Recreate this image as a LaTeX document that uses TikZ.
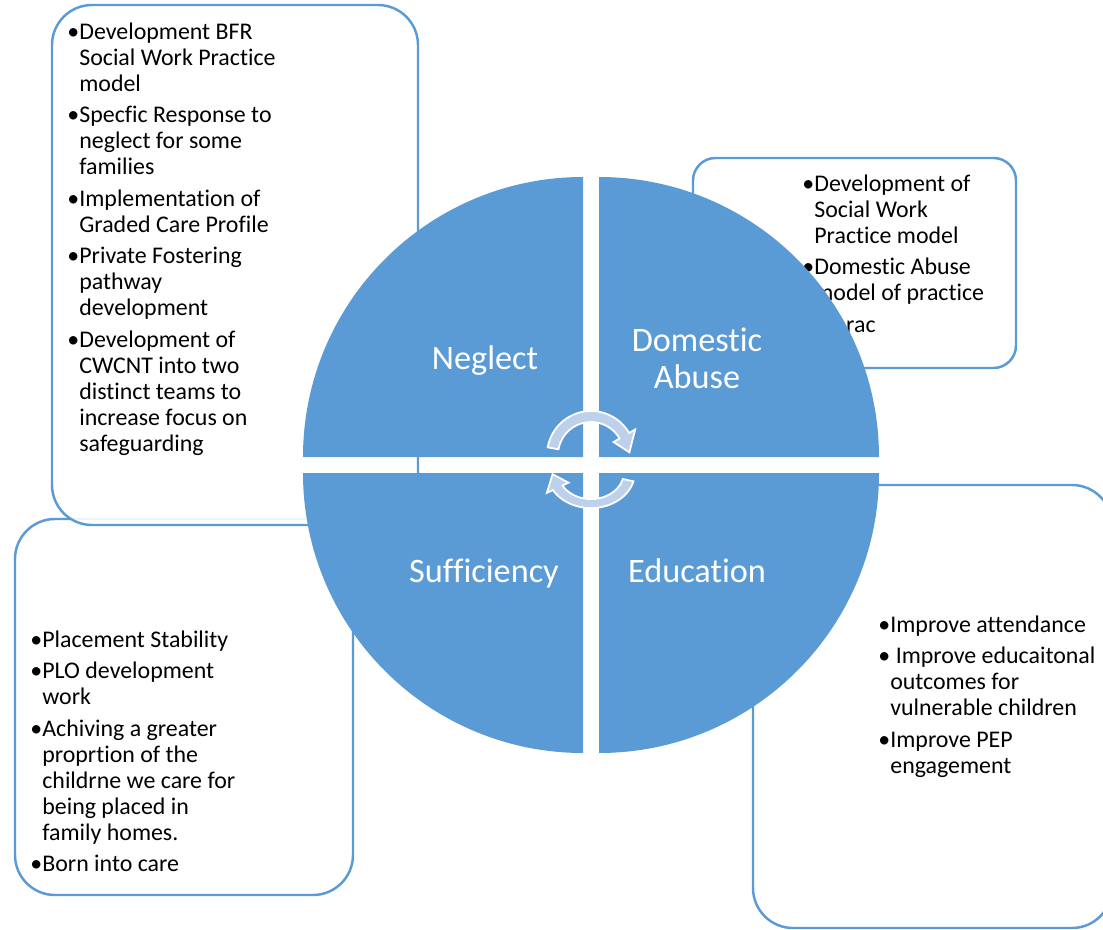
\documentclass[tikz,border=0pt]{standalone}
\usepackage{fontspec}
\setmainfont{Carlito}[RawFeature={-liga;-clig;-calt;-dlig}]
\usepackage{tikz}

\definecolor{segblue}{HTML}{5B9BD5}
\definecolor{cyclefill}{HTML}{BDD1EC}
\newcommand{\bul}{\makebox[0.24cm][l]{\textbullet}}
\newcommand{\ind}{\hspace*{0.24cm}}

\begin{document}
\begin{tikzpicture}[x=0.02cm,y=-0.02cm,
    box/.style={draw=segblue, line width=1.4pt, fill=white, rounded corners=0.8cm},
    list/.style={anchor=north west, inner sep=0pt, align=left, font=\fontsize{13.6}{14.8}\selectfont},
    seg/.style={fill=segblue},
    seglabel/.style={text=white, align=center, font=\fontsize{19.5}{21}\selectfont},
    cyclearrow/.style={fill=cyclefill, draw=white, line width=1pt}]

    \useasboundingbox (0,0) rectangle (1103,930);

    % boxes behind the circle
    \draw[box] (15,519) rectangle (353,895);
    \draw[box, fill opacity=0.9] (52,5) rectangle (418,525);
    \draw[box] (753,485) rectangle (1112,928);
    \draw[box, rounded corners=0.45cm] (693,158) rectangle (1016,368);

    \node[list] (neglectlist) at (67,21) {\rule{0pt}{0.75em}\bul Development BFR\\\ind Social Work Practice\\\ind model\\[0.11cm]
        \bul Specfic Response to\\\ind neglect for some\\\ind families\\[0.11cm]
        \bul Implementation of\\\ind Graded Care Profile\\[0.11cm]
        \bul Private Fostering\\\ind pathway\\\ind development\\[0.11cm]
        \bul Development of\\\ind CWCNT into two\\\ind distinct teams to\\\ind increase focus on\\\ind safeguarding};
    \node[list] (abuselist) at (802,173) {\rule{0pt}{0.75em}\bul Development of\\\ind Social Work\\\ind Practice model\\[0.11cm]
        \bul Domestic Abuse\\\ind model of practice\\[0.11cm]
        \bul Marac};
    \node[list] (educationlist) at (878,614) {\rule{0pt}{0.75em}\bul Improve attendance\\[0.11cm]
        \bul\ Improve educaitonal\\\ind outcomes for\\\ind vulnerable children\\[0.11cm]
        \bul Improve PEP\\\ind engagement};
    \node[list] (sufficiencylist) at (30,629) {\rule{0pt}{0.75em}\bul Placement Stability\\[0.11cm]
        \bul PLO development\\\ind work\\[0.11cm]
        \bul Achiving a greater\\\ind proprtion of the\\\ind childrne we care for\\\ind being placed in\\\ind family homes.\\[0.11cm]
        \bul Born into care};

    % four quarters
    \fill[seg] (583,457) -- ++(-280,0) arc[start angle=180, end angle=270, radius=280] -- cycle;
    \fill[seg] (599,457) -- ++(0,-280) arc[start angle=270, end angle=360, radius=280] -- cycle;
    \fill[seg] (583,473) -- ++(-280,0) arc[start angle=180, end angle=90, radius=280] -- cycle;
    \fill[seg] (599,473) -- ++(280,0) arc[start angle=0, end angle=90, radius=280] -- cycle;

    \node[seglabel] (neglect) at (485,361) {Neglect};
    \node[seglabel] (abuse) at (697,358) {Domestic\\Abuse};
    \node[seglabel] (sufficiency) at (484,573) {Sufficiency};
    \node[seglabel] (education) at (697,571) {Education};

    % cycle arrows
    \begin{scope}[shift={(591,455)}]
        \filldraw[cyclearrow] (190:44) arc[start angle=190, end angle=330, radius=44] -- (330:51) -- (356:38.5)
            -- (330:26) -- (330:33) arc[start angle=330, end angle=190, radius=33] -- cycle;
    \end{scope}
    \begin{scope}[shift={(591,472)}, yscale=0.82]
        \filldraw[cyclearrow] (15:44) arc[start angle=15, end angle=150, radius=44] -- (150:51) -- (176:38.5)
            -- (150:26) -- (150:33) arc[start angle=150, end angle=15, radius=33] -- cycle;
    \end{scope}
\end{tikzpicture}
\end{document}
